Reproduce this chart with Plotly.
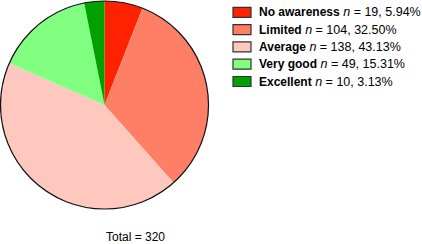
import plotly.graph_objects as go

W, H = 422, 244

categories = ["No awareness", "Limited", "Average", "Very good", "Excellent"]
counts = [19, 104, 138, 49, 10]
percent_labels = ["5.94%", "32.50%", "43.13%", "15.31%", "3.13%"]
colors = ["#FF2200", "#FF7F66", "#FFC8BE", "#80FF80", "#00A000"]
total_label = "Total = 320"

FONT = "Liberation Sans, Arial, Helvetica, sans-serif"

def px_x(x):
    return x / W

def px_y(y):
    return 1 - y / H

# pie geometry (pixels)
cx, cy, r = 104.5, 105.0, 104.0

fig = go.Figure()
fig.add_trace(go.Pie(
    labels=categories,
    values=counts,
    sort=False,
    direction="clockwise",
    rotation=0,
    marker=dict(colors=colors, line=dict(width=0)),
    textinfo="none",
    hoverinfo="label+value+percent",
    showlegend=False,
    domain=dict(x=[px_x(cx - r), px_x(cx + r)], y=[px_y(cy + r), px_y(cy - r)]),
))

shapes = [dict(type="circle", xref="paper", yref="paper",
               x0=px_x(cx - r), x1=px_x(cx + r), y0=px_y(cy + r), y1=px_y(cy - r),
               line=dict(color="#111111", width=1.2), fillcolor="rgba(0,0,0,0)")]
annotations = []

row0, step = 12.3, 17.3
sq_x0, sq_x1, sq_h = 233, 251, 10
text_x = 257
for i, (cat, n, pct, col) in enumerate(zip(categories, counts, percent_labels, colors)):
    yc = row0 + i * step
    shapes.append(dict(type="rect", xref="paper", yref="paper",
                       x0=px_x(sq_x0), x1=px_x(sq_x1),
                       y0=px_y(yc + sq_h / 2), y1=px_y(yc - sq_h / 2),
                       fillcolor=col, line=dict(color="#333333", width=1.2)))
    annotations.append(dict(xref="paper", yref="paper", x=px_x(text_x), y=px_y(yc),
                            xanchor="left", yanchor="middle", showarrow=False,
                            text=(f"<b><span style='font-size:12px'>{cat}</span></b>"
                                  f" <i>n</i> = {n}, {pct}"),
                            font=dict(family=FONT, size=12.5, color="black")))

annotations.append(dict(xref="paper", yref="paper", x=px_x(135.5), y=px_y(236.5),
                        xanchor="center", yanchor="middle", showarrow=False,
                        text=total_label,
                        font=dict(family=FONT, size=12, color="black")))

fig.update_layout(
    width=W, height=H,
    margin=dict(l=0, r=0, t=0, b=0),
    paper_bgcolor="white", plot_bgcolor="white",
    shapes=shapes, annotations=annotations,
    font=dict(family=FONT),
)

fig.write_html(
    "out.html",
    config={"displayModeBar": False},
    post_script="document.body.style.margin='0px';document.body.style.padding='0px';document.body.style.overflow='hidden';",
)
